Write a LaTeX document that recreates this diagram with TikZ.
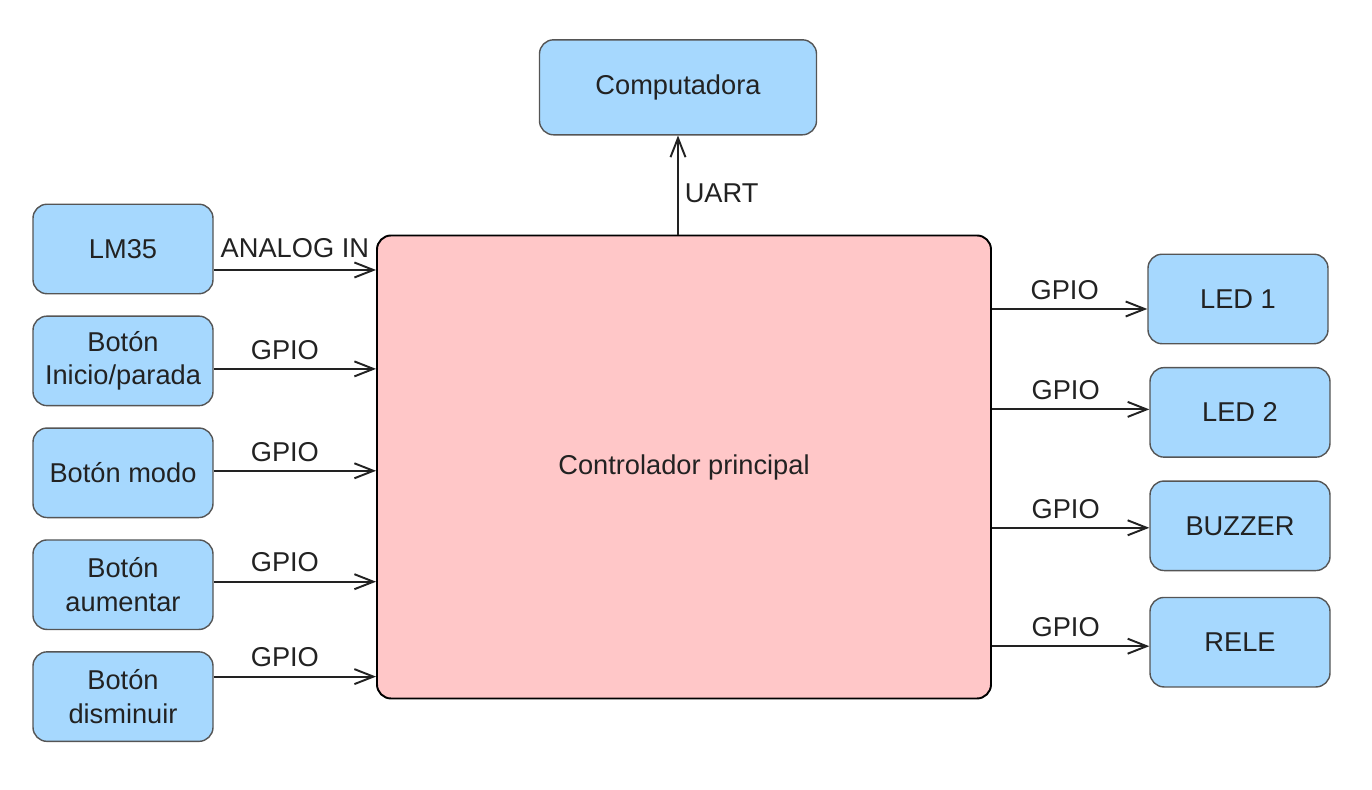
\documentclass[tikz,border=0pt]{standalone}
\usepackage{fontspec}
\setmainfont{Liberation Sans}
\usetikzlibrary{arrows.meta,calc,positioning}
\definecolor{devblue}{HTML}{A6D8FE}
\definecolor{mcupink}{HTML}{FFC7C8}
\definecolor{edgegray}{HTML}{555555}
\definecolor{txtgray}{HTML}{222222}
\tikzset{
  basic/.style  = {draw, rounded corners=8pt, align=center, text=txtgray,
                   font=\fontsize{15.5}{19}\selectfont},
  device/.style = {basic, draw=edgegray, line width=0.8pt, fill=devblue,
                   minimum width=3.6cm, minimum height=1.79cm},
  mcu/.style    = {basic, draw=black, line width=1.1pt, fill=mcupink,
                   minimum width=12.28cm, minimum height=9.26cm},
  link/.style   = {->, draw=txtgray, line width=1.1pt},
  lbl/.style    = {text=txtgray, font=\fontsize{15.5}{19}\selectfont}
}

\begin{document}
\begin{tikzpicture}[
  >={Straight Barb[length=0.38cm,width=0.3cm]}]
\useasboundingbox (0,0) rectangle (27.44,15.8);

% main controller and the computer above it
\node[mcu] (ctrl) at (13.68,6.46) {Controlador principal};
\node[device, minimum width=5.54cm, minimum height=1.9cm,
      above=1.98cm of ctrl, xshift=-0.12cm] (comp) {Computadora};

% inputs, left column
\node[device] (lm35) at (2.46,10.82) {LM35};
\node[device, below=0.42cm of lm35] (inicio) {Botón\\Inicio/parada};
\node[device, below=0.42cm of inicio] (modo) {Botón modo};
\node[device, below=0.42cm of modo] (aumentar) {Botón\\aumentar};
\node[device, below=0.42cm of aumentar] (disminuir) {Botón\\disminuir};

% outputs, right column
\node[device] (led1) at (24.76,9.82) {LED 1};
\node[device, below=0.45cm of led1, xshift=0.04cm] (led2) {LED 2};
\node[device, below=0.45cm of led2] (buzzer) {BUZZER};
\node[device, below=0.51cm of buzzer] (rele) {RELE};

% UART link
\draw[link] (comp.south |- ctrl.north) -- (comp.south)
  node[lbl, right, midway, yshift=-0.16cm] {UART};

% input links
\draw[link] ([yshift=-0.42cm]lm35.east) -- ([yshift=-0.42cm]lm35.east -| ctrl.west)
  node[lbl, above=3pt, midway] {ANALOG IN};
\foreach \name/\dy in {inicio/-0.16, modo/0.04, aumentar/0.06, disminuir/0.4}
  \draw[link] ([yshift=\dy cm]\name.east) -- ([yshift=\dy cm]\name.east -| ctrl.west)
    node[lbl, above=1.5pt, midway, xshift=-0.2cm] {GPIO};

% output links
\foreach \name/\dy in {led1/-0.2, led2/0.06, buzzer/-0.04, rele/-0.08}
  \draw[link] ([yshift=\dy cm]\name.west -| ctrl.east) -- ([yshift=\dy cm]\name.west)
    node[lbl, above=1.5pt, midway, xshift=-0.1cm] {GPIO};
\end{tikzpicture}
\end{document}
